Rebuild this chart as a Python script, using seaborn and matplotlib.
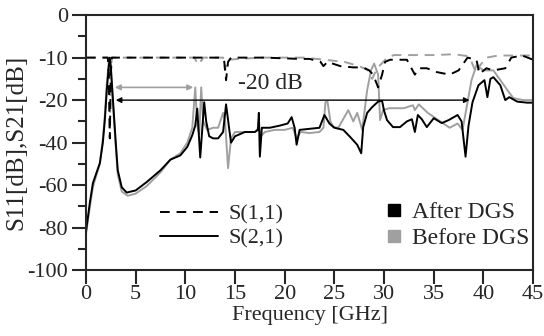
import numpy as np
import pandas as pd
import matplotlib
matplotlib.use('Agg')
import matplotlib.pyplot as plt
import seaborn as sns
from matplotlib.lines import Line2D
from matplotlib.ticker import FixedLocator

### DATA

# S21 after DGS (black solid)
f_s21_after = [0, 0.4, 0.7, 1.0, 1.4, 1.7, 1.9, 2.1, 2.3, 2.4, 2.5, 2.7, 3.0, 3.2, 3.6, 4.1, 5.0, 6.1, 7.5,
               8.5, 9.5, 10.2, 10.7, 11.0, 11.2, 11.5, 11.9, 12.1, 12.4, 12.8, 13.3, 13.8, 14.1, 14.4, 14.6,
               15.0, 16.0, 17.0, 17.3, 17.4, 17.5, 17.7, 18.5, 19.5, 20.3, 20.7, 21.0, 21.2, 21.5, 22.5, 23.5,
               24.0, 24.5, 25.0, 25.9, 26.6, 27.3, 27.7, 27.9, 28.3, 28.8, 29.4, 29.8, 30.0, 30.3, 30.9, 31.6,
               32.3, 32.8, 33.1, 33.4, 33.8, 34.3, 35.0, 35.8, 36.5, 37.4, 37.8, 38.2, 38.5, 38.9, 39.5, 40.1,
               40.4, 40.7, 41.0, 41.7, 42.2, 42.6, 43.4, 44.4, 45.0]
s21_after = [-82, -68, -59, -55, -49.6, -40, -29.4, -17.6, -12, -10, -12, -19.3, -40, -53, -61, -63.5, -62.5,
             -58.6, -53, -48, -46, -42, -36.5, -32, -24, -47, -21, -30, -37, -38, -38, -35, -22, -33, -40,
             -37, -35, -35, -34, -26, -46.6, -33, -33, -32, -31, -28, -33, -41, -34, -33.5, -33,
             -27, -31, -33, -34, -37.4, -41, -45, -32.7, -26, -23.3, -20.7, -20.3, -25, -29.4, -32.7, -32.7,
             -30, -29, -35, -27, -29, -32.7, -28.5, -30.8, -29.4, -27, -30, -46.6, -32, -21, -16.5, -15.3,
             -19.3, -15, -14.6, -16.5, -20, -19.3, -20.7, -21.2, -21.2]

# S21 before DGS (grey solid)
f_s21_before = [0, 0.4, 0.7, 1.0, 1.4, 1.7, 1.9, 2.1, 2.3, 2.4, 2.5, 2.7, 3.0, 3.2, 3.6, 4.2, 5.0, 6.1, 7.5,
                8.5, 9.5, 10.2, 10.7, 11.0, 11.2, 11.4, 11.6, 11.8, 12.2, 12.8, 13.3, 13.8, 14.0, 14.3, 14.6,
                15.0, 16.0, 17.0, 17.4, 17.6, 18.0, 19.0, 20.0, 20.8, 21.2, 21.6, 22.5, 23.5, 23.9, 24.1, 24.3,
                24.6, 24.9, 25.4, 26.4, 26.9, 27.3, 27.8, 28.3, 28.7, 29.0, 29.4, 29.6, 29.9, 30.5, 32.0, 32.9,
                33.1, 33.5, 34.4, 35.9, 36.6, 37.4, 37.9, 38.4, 38.8, 39.3, 40.0, 41.0, 41.7, 42.4, 43.0, 44.0,
                45.0]
s21_before = [-83, -70, -61, -56, -50, -38, -27, -16, -11, -10.5, -13, -21, -42, -55, -63, -65, -64, -60.5, -54,
              -48, -45, -40, -33, -17, -32, -36, -17, -30, -34, -33, -33, -26, -30, -52, -38,
              -35, -35, -35, -33, -37, -35, -34, -34, -33, -38, -35, -35.5, -35, -33, -21, -20.5,
              -30, -32.7, -33, -24.7, -30, -26, -34, -17.6, -12.9, -11.4, -14, -29.4, -24.7, -23.8, -23.8, -22.4,
              -24.7, -22, -26, -30.8, -33, -31, -34, -21, -15.3, -11.8, -13, -13, -15.3, -17.6, -19.5, -20,
              -20]

# S11 after DGS (black dashed)
f_s11_after = [0, 2.2, 2.3, 2.4, 2.5, 2.6, 11.0, 13.6, 13.9, 14.1, 14.3, 14.6, 16.0, 18.0, 21.5, 22.5, 23.6,
               23.9, 24.3, 25.6, 26.9, 27.9, 28.5, 28.9, 29.4, 29.8, 30.1, 30.6, 32.3, 33.1, 33.5, 34.3, 35.3,
               36.6, 37.5, 38.4, 39.3, 39.6, 40.3, 41.0, 42.2, 42.8, 43.9, 45.0]
s11_after = [-10, -10, -14, -38, -14, -10, -10, -10, -10.5, -15.3, -11, -10, -10, -10, -10.3, -10.3, -11,
             -12, -11, -12, -12.3, -12.3, -13, -14, -17, -14, -11, -10.5, -10.5, -14, -12.5, -12.5, -13.4,
             -14, -13, -10, -10.5, -13.8, -12.5, -13, -12.5, -10, -9.5, -10.5]

# S11 before DGS (grey dashed)
f_s11_before = [0, 2.2, 2.3, 2.4, 2.5, 2.6, 10.9, 11.1, 11.3, 11.6, 11.8, 13.8, 14.0, 14.2, 17.5, 19.5, 22.0,
                24.0, 26.0, 27.5, 28.4, 28.8, 29.2, 29.5, 29.8, 30.3, 31.0, 33.0, 35.0, 37.0, 38.3, 38.8, 39.3,
                39.6, 40.3, 41.5, 45.0]
s11_before = [-10, -10, -14, -35, -14, -10, -10, -10.8, -10, -10.8, -10, -10, -12.9, -10.5, -10, -10, -10,
              -10.5, -11, -12, -13, -15, -13, -12, -11.3, -10, -9.4, -9.4, -9.4, -9.2, -9.6, -11, -13.8,
              -12, -10, -9.5, -9.5]

x_ticks = [0, 5, 10, 15, 20, 25, 30, 35, 40, 45]
y_ticks = [0, -10, -20, -40, -60, -80, -100]

rows = []
for f, v, par, st in [(f_s21_before, s21_before, 'S(2,1)', 'Before DGS'),
                      (f_s11_before, s11_before, 'S(1,1)', 'Before DGS'),
                      (f_s21_after, s21_after, 'S(2,1)', 'After DGS'),
                      (f_s11_after, s11_after, 'S(1,1)', 'After DGS')]:
    rows.append(pd.DataFrame({'freq': f, 'dB': v, 'param': par, 'state': st}))
df = pd.concat(rows, ignore_index=True)

### PLOT

sns.set_style('ticks')
plt.rcParams['font.family'] = ['Liberation Serif', 'DejaVu Serif']
plt.rcParams['font.size'] = 16

grey = '#a0a0a0'

# the y axis in the original is evenly spaced over 0,-10,-20,-40,...,-100
lab = np.array([-100, -80, -60, -40, -20, -10, 0], dtype=float)
pos = np.arange(-6, 1, dtype=float)
def fwd(v):
    return np.interp(v, lab, pos)
def inv(p):
    return np.interp(p, pos, lab)

fig, ax = plt.subplots(figsize=(5.44, 3.36), dpi=100)
fig.subplots_adjust(left=0.158, right=0.98, bottom=0.196, top=0.955)
ax.set_yscale('function', functions=(fwd, inv))

sns.lineplot(data=df, x='freq', y='dB', hue='state', style='param', units='state', estimator=None,
             sort=False, hue_order=['Before DGS', 'After DGS'],
             palette={'After DGS': 'black', 'Before DGS': grey},
             dashes={'S(1,1)': (5, 3.5), 'S(2,1)': ''}, lw=1.4, legend=False, ax=ax)

ax.set_xlim(0, 45)
ax.set_ylim(-100, 0)
ax.set_xticks(x_ticks)
ax.yaxis.set_major_locator(FixedLocator(y_ticks))
ax.yaxis.set_minor_locator(FixedLocator([-5, -15, -30, -50, -70, -90]))
ax.set_yticklabels([str(t) for t in y_ticks])
ax.tick_params(axis='both', which='major', length=10, width=1.5, direction='out', labelsize=16)
ax.tick_params(axis='x', which='major', pad=1)
ax.tick_params(axis='y', which='major', pad=3)
ax.tick_params(axis='y', which='minor', length=5.8, width=1.5, direction='out')
for s in ax.spines.values():
    s.set_linewidth(1.5)

ax.set_xlabel('Frequency [GHz]', fontsize=16, labelpad=1)
ax.set_ylabel('S11[dB],S21[dB]', fontsize=18, labelpad=0)

# bandwidth arrows
ax.annotate('', xy=(2.9, -17), xytext=(10.8, -17),
            arrowprops=dict(arrowstyle='<|-|>', color=grey, lw=1.2, mutation_scale=8, shrinkA=0, shrinkB=0))
ax.annotate('', xy=(3.0, -20), xytext=(38.6, -20),
            arrowprops=dict(arrowstyle='<|-|>', color='black', lw=1.0, mutation_scale=8, shrinkA=0, shrinkB=0))
ax.text(18.6, -16.2, '-20 dB', ha='center', va='center', fontsize=17)

# legends
line_handles = [Line2D([], [], color='black', lw=1.4, dashes=(5, 3.5)),
                Line2D([], [], color='black', lw=1.4)]
leg1 = ax.legend(line_handles, ['S(1,1)', 'S(2,1)'], loc='upper left', bbox_to_anchor=(0.165, 0.258),
                 frameon=False, handlelength=2.6, handletextpad=0.5, labelspacing=0.15,
                 borderpad=0, borderaxespad=0, fontsize=16)
ax.add_artist(leg1)
sq_handles = [Line2D([], [], ls='', marker='s', markersize=8.6, color='black'),
              Line2D([], [], ls='', marker='s', markersize=8.6, color=grey)]
ax.legend(sq_handles, ['After DGS', 'Before DGS'], loc='upper left', bbox_to_anchor=(0.672, 0.27),
          frameon=False, handlelength=0.6, handletextpad=0.5, labelspacing=0.2,
          borderpad=0, borderaxespad=0, fontsize=17)

fig.savefig('out.png', dpi=100)
